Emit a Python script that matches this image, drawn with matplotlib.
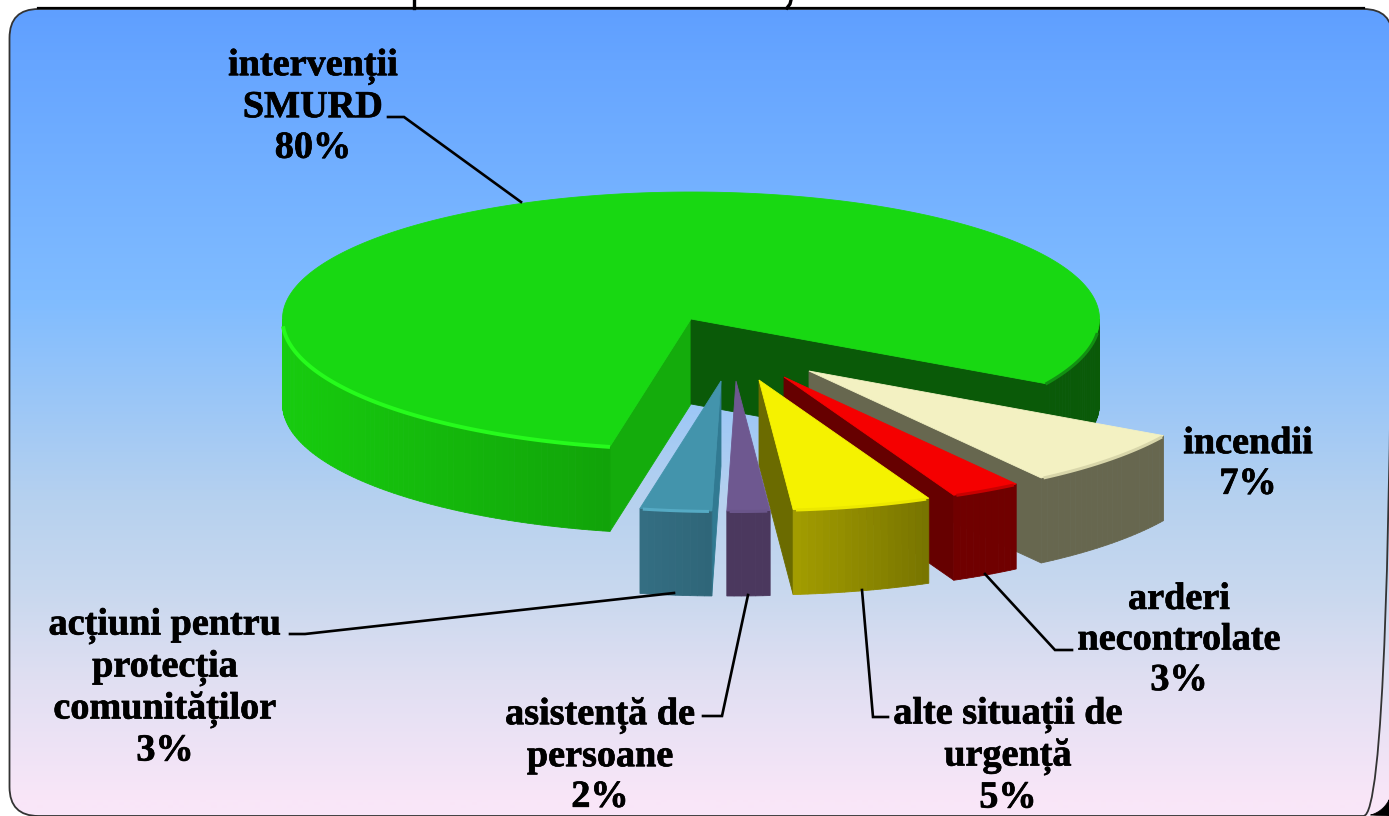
import numpy as np
import matplotlib
matplotlib.use("Agg")
import matplotlib.pyplot as plt
import matplotlib.patheffects as pe
from matplotlib.patches import FancyBboxPatch, Polygon
from matplotlib.colors import to_rgb

# ---- data ----
categories = ["intervenții\nSMURD", "incendii", "arderi\nnecontrolate",
              "alte situații de\nurgență", "asistență de\npersoane",
              "acțiuni pentru\nprotecția\ncomunităților"]
shares = [80.1, 7.1, 2.8, 5.49, 1.69, 2.82]

# ---- style ----
top_colors = ["#18d812", "#f3f1c2", "#f50000", "#f5f200", "#6e5890", "#4394ac"]
rim_colors = ["#26fb1c", "#d8d6aa", "#c80000", "#ece800", "#6a558a", "#55aac4"]
wall_left = ["#17cc0e", "#67674f", "#700000", "#a39d00", "#4b385e", "#346e82"]
wall_right = ["#11a309", "#67674f", "#700000", "#777400", "#4b385e", "#2f6678"]
start_face = ["#14ac0c", "#67674f", "#600000", "#6b6b00", "#4b385e", "#317a92"]
end_face = ["#0a5a08", "#67674f", "#660000", "#6b6b00", "#4b385e", "#317a92"]
explode_x = [0, 118, 93, 68, 45, 30]
explode_y = [0, 52, 58, 61, 62, 62]
label_xy = [(313, 107), (1248, 464), (1179, 640), (1008, 756), (600, 756), (165, 688)]
leaders = [[(388, 117), (404, 117), (521, 202)],
           None,
           [(985, 574), (1055, 650), (1072, 650)],
           [(862, 590), (873, 717), (888, 717)],
           [(748, 595), (722, 716), (703, 716)],
           [(674, 593), (305, 634), (290, 634)]]
CX, CY, RX, RY_BACK, RY_FRONT, H = 691, 319, 408.5, 127, 130, 85
START_DEG = -29.8
W, Hpx = 1389, 816

fig = plt.figure(figsize=(W / 100, Hpx / 100), dpi=100, facecolor="white")
ax = fig.add_axes([0, 0, 1, 1])
ax.set_xlim(0, W)
ax.set_ylim(Hpx, 0)
ax.axis("off")

# panel background
stops_y = [9, 60, 300, 500, 590, 680, 800, 816]
stops_c = ["#5f9fff", "#66a5ff", "#80bcff", "#b6d1ef", "#c8d8ee", "#e0dff2", "#f9e6f8", "#fae6f8"]
ys = np.arange(0, 817)
rgb = np.array([to_rgb(c) for c in stops_c])
grad = np.stack([np.interp(ys, stops_y, rgb[:, i]) for i in range(3)], axis=1)[:, None, :]
panel = FancyBboxPatch((9.5, 9), 1383, 807, boxstyle="round,pad=0,rounding_size=29",
                       fc="none", ec="#333333", lw=1.3, zorder=3)
ax.add_patch(panel)
im = ax.imshow(grad, extent=(0, W, Hpx, 0), aspect="auto", zorder=1, interpolation="bilinear")
im.set_clip_path(panel)
ax.set_xlim(0, W)
ax.set_ylim(Hpx, 0)
ax.plot([38, 1364], [8.2, 8.2], color="black", lw=1.6, zorder=4)
# black corner at the lower right
arc = np.radians(np.linspace(26, 75, 20))
ax.add_patch(Polygon(np.column_stack([np.r_[1363 + 29 * np.cos(arc), 1389],
                                      np.r_[787 + 29 * np.sin(arc), 816]]),
                     closed=True, fc="black", ec="black", lw=0.5, zorder=5, clip_on=True))
# what remains of the cut-off title
ax.plot([414, 414], [0, 8], color="black", lw=2.4, zorder=4)
ax.plot([791, 790, 787], [0, 4, 8], color="black", lw=2.4, zorder=4)


def pt(t_deg, ox, oy, drop=0.0):
    t = np.radians(t_deg)
    s = np.sin(t)
    ry = np.where(s > 0, RY_BACK, RY_FRONT)
    return CX + ox + RX * np.cos(t), CY + oy - ry * s + drop


def fill(xs, ys_, color, z):
    ax.add_patch(Polygon(np.column_stack([xs, ys_]), closed=True, fc=color, ec=color,
                         lw=0.6, zorder=z))


def wall(t_from, t_to, ox, oy, c_l, c_r, z):
    """Front wall between two angles, shaded across its width."""
    if t_from - t_to < 1e-6:
        return
    n = max(2, int((t_from - t_to) / 1.0))
    ts = np.linspace(t_from, t_to, n + 1)
    xs, ys_ = pt(ts, ox, oy)
    lo, hi = xs.min(), xs.max()
    a, b = np.array(to_rgb(c_l)), np.array(to_rgb(c_r))
    for i in range(n):
        f = ((xs[i] + xs[i + 1]) / 2 - lo) / max(hi - lo, 1)
        c = tuple(a + (b - a) * f)
        fill([xs[i], xs[i + 1], xs[i + 1], xs[i]],
             [ys_[i], ys_[i + 1], ys_[i + 1] + H, ys_[i] + H], c, z)


def face(t, ox, oy, color, z):
    x, y = pt(t, ox, oy)
    ax_, ay = CX + ox, CY + oy
    fill([ax_, x, x, ax_], [ay, y, y + H, ay + H], color, z)


# the largest slice runs clockwise from its start at the lower left
spans = [s * 3.6 for s in shares]
ends = np.cumsum(spans[1:])
bounds = [START_DEG] + list(START_DEG - ends)
slices = [(bounds[-1], bounds[0] - 360)]
for i in range(5):
    slices.append((bounds[i], bounds[i + 1]))

for i, (t1, t2) in enumerate(slices):
    z = 10 + i * 5
    ox, oy = explode_x[i], explode_y[i]
    # cut faces that look towards the viewer
    if np.cos(np.radians(t1)) < 0:
        face(t1, ox, oy, start_face[i], z)
    if np.cos(np.radians(t2)) > 0:
        face(t2, ox, oy, end_face[i], z)
    # outer wall, front half only
    if i == 0:
        wall(t1, -180, ox, oy, wall_left[0], wall_right[0], z + 1)
        wall(-360, t2, ox, oy, end_face[0], end_face[0], z + 1)
    else:
        wall(t1, t2, ox, oy, wall_left[i], wall_right[i], z + 1)
    # top surface
    ts = np.linspace(t1, t2, int(abs(t1 - t2)) + 2)
    xs, ys_ = pt(ts, ox, oy)
    fill(np.r_[CX + ox, xs], np.r_[CY + oy, ys_], top_colors[i], z + 2)
    # bevel along the front rim
    if i == 0:
        for a, b, col, lw_ in [(t1, -177, rim_colors[0], 2.8), (-366, t2, "#129012", 2.2)]:
            r = np.linspace(a, b, int(abs(a - b)) + 2)
            ax.plot(*pt(r, ox, oy, 0.5), color=col, lw=lw_, zorder=z + 3,
                    solid_capstyle="butt")
    else:
        r = np.linspace(t1 - 0.4, t2 + 0.4, int(abs(t1 - t2)) + 2)
        ax.plot(*pt(r, ox, oy, 0.5), color=rim_colors[i], lw=2.2, zorder=z + 3,
                solid_capstyle="butt")

# labels and leader lines
for i, name in enumerate(categories):
    ax.text(label_xy[i][0], label_xy[i][1], f"{name}\n{round(shares[i])}%", ha="center",
            va="center", ma="center", family="Liberation Serif", weight="bold",
            fontsize=27.5, linespacing=1.207, color="black", zorder=60,
            path_effects=[pe.withStroke(linewidth=0.5, foreground="black")])
    if leaders[i]:
        lx, ly = zip(*leaders[i])
        ax.plot(lx, ly, color="black", lw=1.9, zorder=55, solid_joinstyle="miter")

fig.savefig("out.png", dpi=100, facecolor="white")
